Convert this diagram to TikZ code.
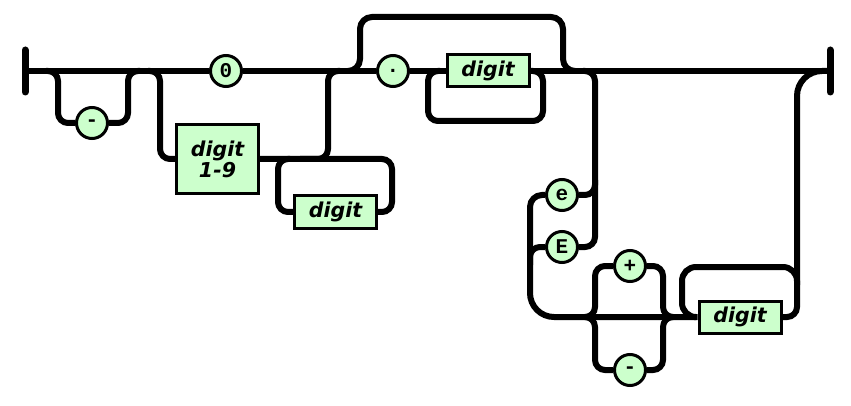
\documentclass[tikz,border=0pt]{standalone}
\usepackage{fontspec}
\newfontfamily\boxfont{DejaVu Sans}
\newfontfamily\circfont{Liberation Mono}
\definecolor{railgreen}{RGB}{204,255,204}
\tikzset{
  rail/.style={line width=6pt, rounded corners=10pt},
  endbar/.style={line width=7pt, line cap=round},
  term/.style={circle, draw, line width=3pt, fill=railgreen, minimum size=31pt, inner sep=0pt,
    font=\circfont\bfseries\fontsize{21}{21}\selectfont},
  nonterm/.style={rectangle, draw, line width=3pt, fill=railgreen, minimum width=82pt,
    minimum height=32pt, inner sep=0pt, align=center,
    font=\boxfont\bfseries\itshape\fontsize{20.5}{21}\selectfont},
}
\begin{document}
\begin{tikzpicture}[x=1pt,y=-1pt]
\useasboundingbox (0,0) rectangle (851,406);
% nodes
\node[term] (minA) at (92,123) {-};
\node[term] (zero) at (226,71) {0};
\node[nonterm, minimum height=69pt] (d19) at (217.5,159) {digit\\1-9};
\node[nonterm] (dgA) at (335.5,212) {digit};
\node[term] (dot) at (393,71) {.};
\node[nonterm] (dgB) at (488,71) {digit};
\node[term] (e) at (562,195) {e};
\node[term] (E) at (562,247) {E};
\node[term] (plus) at (630,266) {+};
\node[term] (minB) at (630,370) {-};
\node[nonterm] (dgC) at (740,317) {digit};
\coordinate (lbar) at (25,71);
\coordinate (rbar) at (830,71);
\coordinate (lbart) at (25,50);
\coordinate (lbarb) at (25,92);
\coordinate (rbart) at (830,50);
\coordinate (rbarb) at (830,92);
% end bars
\draw[endbar] (lbart) -- (lbarb);
\draw[endbar] (rbart) -- (rbarb);
% main line
\draw[rail] (lbar) -- (zero.west);
\draw[rail] (zero.east) -- (dot.west);
\draw[rail] (dot.east) -- (dgB.west);
\draw[rail] (dgB.east) -- (rbar);
% optional minus
\draw[rail] (46,71) -- (58,71) -- (58,123) -- (minA.west);
\draw[rail] (minA.east) -- (128,123) -- (128,71) -- (140,71);
% digit 1-9 branch
\draw[rail] (148,71) -- (160,71) -- (160,159) -- (d19.west);
\draw[rail] (d19.east) -- (328,159) -- (328,71) -- (340,71);
\draw[rail] (290,159) -- (278,159) -- (278,212) -- (dgA.west);
\draw[rail] (dgA.east) -- (392,212) -- (392,159) -- (300,159);
% fraction bypass
\draw[rail, rounded corners=12pt] (348,71) -- (360,71) -- (360,17) -- (563,17) -- (563,71) -- (575,71);
\draw[rail] (440,71) -- (428,71) -- (428,121) -- (543,121) -- (543,71) -- (531,71);
% exponent
\draw[rail] (583,71) -- (595,71) -- (595,247) -- (E.east);
\draw[rail] (595,180) -- (595,195) -- (e.east);
\draw[rail] (e.west) [rounded corners=12pt] -- (530,195) [rounded corners=24pt] -- (530,317) -- (dgC.west);
\draw[rail] (E.west) -- (530,247) -- (530,265);
\draw[rail] (585,317) -- (595,317) -- (595,266) -- (plus.west);
\draw[rail] (585,317) -- (595,317) -- (595,370) -- (minB.west);
\draw[rail] (plus.east) -- (663,266) -- (663,317) -- (673,317);
\draw[rail] (minB.east) -- (663,370) -- (663,317) -- (673,317);
\draw[rail, rounded corners=14pt] (694,317) -- (682,317) -- (682,267) -- (797,267) -- (797,285);
\draw[rail] (dgC.east) -- (797,317) [rounded corners=25pt] -- (797,71) -- (rbar);
\end{tikzpicture}
\end{document}
